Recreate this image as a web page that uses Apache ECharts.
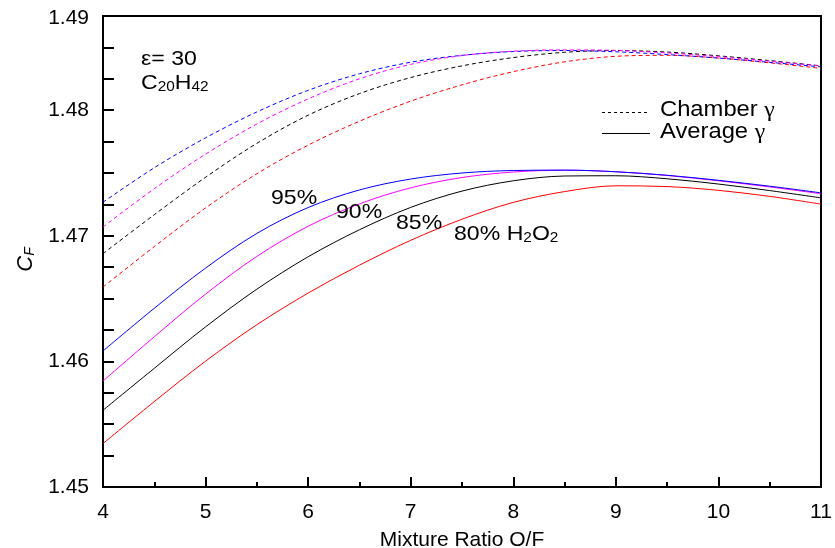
<!DOCTYPE html>
<html><head><meta charset="utf-8">
<script src="https://cdn.jsdelivr.net/npm/echarts@6/dist/echarts.min.js"></script>
<style>html,body{margin:0;padding:0;background:#fff}#c{width:835px;height:548px}</style>
</head><body><div id="c"></div>
<script>
// Mixture ratio O/F
const mixtureRatio = [4, 4.5, 5, 5.5, 6, 6.5, 7, 7.5, 8, 8.5, 9, 9.5, 10, 10.5, 11];
// Average gamma (solid)
const avg95 = [1.46083, 1.46423, 1.46743, 1.47019, 1.47225, 1.47365, 1.47452, 1.47500, 1.47520, 1.47523, 1.47510, 1.47482, 1.47442, 1.47395, 1.47342];
const avg90 = [1.45844, 1.46196, 1.46536, 1.46836, 1.47076, 1.47254, 1.47382, 1.47464, 1.47508, 1.47522, 1.47510, 1.47480, 1.47438, 1.47389, 1.47335];
const avg85 = [1.45611, 1.45945, 1.46275, 1.46575, 1.46833, 1.47048, 1.47226, 1.47356, 1.47438, 1.47476, 1.47478, 1.47454, 1.47412, 1.47360, 1.47302];
const avg80 = [1.45346, 1.45680, 1.46002, 1.46292, 1.46544, 1.46766, 1.46964, 1.47132, 1.47266, 1.47352, 1.47398, 1.47392, 1.47362, 1.47314, 1.47252];
// Chamber gamma (dashed)
const ch95 = [1.47267, 1.47542, 1.47780, 1.47986, 1.48158, 1.48290, 1.48382, 1.48437, 1.48467, 1.48475, 1.48465, 1.48443, 1.48415, 1.48381, 1.48345];
const ch90 = [1.47070, 1.47375, 1.47650, 1.47890, 1.48090, 1.48250, 1.48365, 1.48435, 1.48470, 1.48480, 1.48476, 1.48456, 1.48426, 1.48390, 1.48352];
const ch85 = [1.46858, 1.47168, 1.47466, 1.47736, 1.47960, 1.48132, 1.48260, 1.48353, 1.48419, 1.48461, 1.48475, 1.48463, 1.48433, 1.48395, 1.48353];
const ch80 = [1.46592, 1.46914, 1.47222, 1.47494, 1.47722, 1.47912, 1.48072, 1.48202, 1.48307, 1.48385, 1.48429, 1.48437, 1.48415, 1.48377, 1.48333];
// Tick labels
const yTickValues = [1.45, 1.46, 1.47, 1.48, 1.4875];
const yTickLabels = ['1.45', '1.46', '1.47', '1.48', '1.49'];
const xTickValues = [4, 5, 6, 7, 8, 9, 10, 11];
const xTickLabels = ['4', '5', '6', '7', '8', '9', '10', '11'];

const FONT = '"Liberation Sans", Arial, sans-serif';
const pairs = arr => mixtureRatio.map((x, i) => [x, arr[i]]);

const curves = [
  {data: ch80, color: '#ff0000', dashed: true},
  {data: ch85, color: '#000000', dashed: true},
  {data: ch95, color: '#0000ff', dashed: true},
  {data: ch90, color: '#ff00ff', dashed: true},
  {data: avg80, color: '#ff0000', dashed: false},
  {data: avg85, color: '#000000', dashed: false},
  {data: avg90, color: '#ff00ff', dashed: false},
  {data: avg95, color: '#0000ff', dashed: false}
];

const chart = echarts.init(document.getElementById('c'), null, {renderer: 'canvas'});

const subRich = (size) => ({
  a: {fontFamily: FONT, fontSize: size, lineHeight: 22, color: '#000'},
  b: {fontFamily: FONT, fontSize: 14, lineHeight: 8, verticalAlign: 'bottom', color: '#000'},
  g: {fontFamily: '"Liberation Serif", serif', fontSize: size, lineHeight: 22, color: '#000'}
});

function txt(x, y, text, size, sx) {
  return {type: 'text', x: x, y: y, scaleX: sx, z: 100,
    style: {text: text, rich: subRich(size), fill: '#000', verticalAlign: 'middle', align: 'left'}};
}

const option = {
  animation: false,
  backgroundColor: '#fff',
  grid: {left: 103, right: 14, top: 16, bottom: 61, show: true, borderColor: '#000', borderWidth: 2,
    containLabel: false, outerBoundsMode: 'none'},
  xAxis: {
    type: 'value', min: 4, max: 11, interval: 1,
    name: 'Mixture Ratio O/F', nameLocation: 'middle', nameGap: 43,
    nameTextStyle: {fontFamily: FONT, fontSize: 21, color: '#000'},
    axisLine: {show: true, lineStyle: {color: '#000', width: 2}},
    axisTick: {show: true, inside: true, length: 10, lineStyle: {color: '#000', width: 2}},
    minorTick: {show: true, splitNumber: 2, length: 5, lineStyle: {color: '#000', width: 2}},
    splitLine: {show: false},
    axisLabel: {margin: 15, fontFamily: FONT, fontSize: 21, color: '#000',
      formatter: v => { const i = xTickValues.findIndex(t => Math.abs(t - v) < 1e-6); return i >= 0 ? xTickLabels[i] : ''; }}
  },
  yAxis: {
    type: 'value', min: 1.45, max: 1.4875, interval: 0.0025,
    name: '{c|C}{f|F}', nameLocation: 'middle', nameGap: 53, nameRotate: 90,
    nameTextStyle: {padding: [0, 16, 0, 0], rich: {
      c: {fontFamily: FONT, fontSize: 22, fontStyle: 'italic', lineHeight: 22, color: '#000'},
      f: {fontFamily: FONT, fontSize: 14, fontStyle: 'italic', lineHeight: 8, verticalAlign: 'bottom', color: '#000'}
    }},
    axisLine: {show: true, lineStyle: {color: '#000', width: 2}},
    axisTick: {show: true, inside: true, length: 11, lineStyle: {color: '#000', width: 2}},
    splitLine: {show: false},
    axisLabel: {margin: 14, fontFamily: FONT, fontSize: 21, color: '#000', showMaxLabel: true,
      rich: {t: {fontFamily: FONT, fontSize: 21, color: '#000', padding: [5, 0, 0, 0]}},
      formatter: v => {
        const i = yTickValues.findIndex(t => Math.abs(t - v) < 1e-6);
        if (i < 0) return '';
        return i === yTickValues.length - 1 ? '{t|' + yTickLabels[i] + '}' : yTickLabels[i];
      }}
  },
  series: curves.map(c => ({
    type: 'line', data: pairs(c.data), smooth: 0.33, showSymbol: false, symbol: 'none',
    clip: true,
    lineStyle: {color: c.color, width: 1, type: c.dashed ? [4, 3] : 'solid'}
  })),
  graphic: [
    txt(141, 59, '{a|ε= 30}', 21, 1.1),
    txt(141, 83, '{a|C}{b|20}{a|H}{b|42}', 21, 1.1),
    txt(271, 198, '{a|95%}', 21, 1.1),
    txt(336, 212, '{a|90%}', 21, 1.1),
    txt(396, 223, '{a|85%}', 21, 1.1),
    txt(454, 234, '{a|80% H}{b|2}{a|O}{b|2}', 21, 1.1),
    {type: 'line', shape: {x1: 602, y1: 112.5, x2: 650, y2: 112.5}, style: {stroke: '#000', lineWidth: 1, lineDash: [3, 3]}},
    {type: 'line', shape: {x1: 602, y1: 133.5, x2: 650, y2: 133.5}, style: {stroke: '#000', lineWidth: 1}},
    txt(660, 110, '{a|Chamber }{g|γ}', 22, 1.08),
    txt(660, 132, '{a|Average }{g|γ}', 22, 1.08)
  ]
};
chart.setOption(option);
</script>
</body></html>
